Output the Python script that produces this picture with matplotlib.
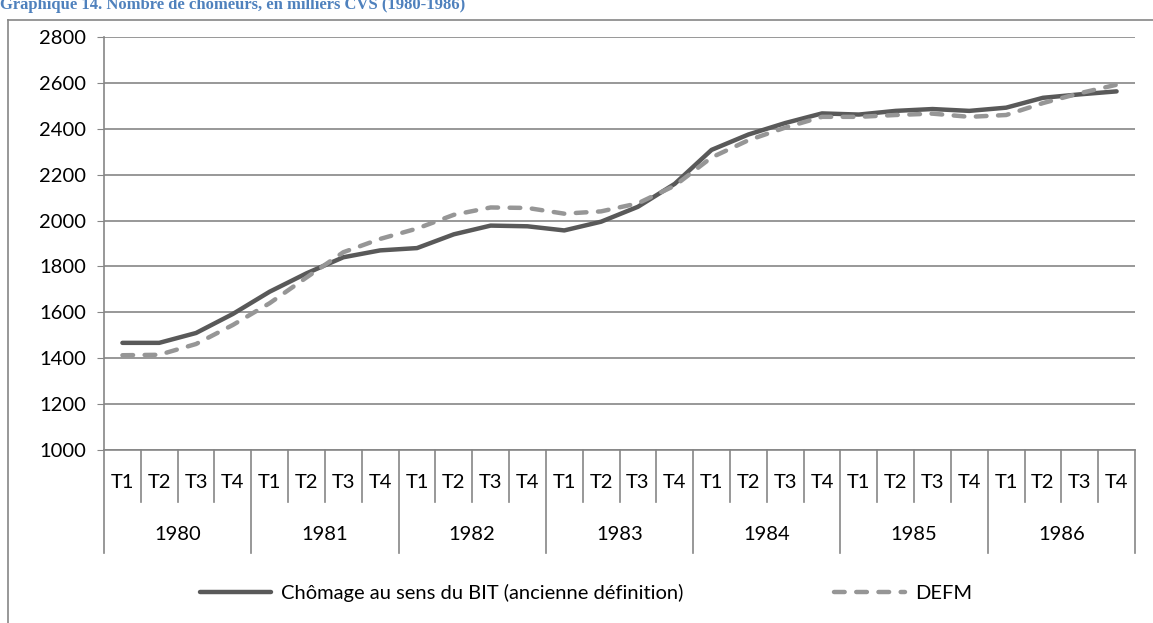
import numpy as np
import matplotlib.pyplot as plt
from matplotlib.lines import Line2D
import matplotlib.transforms as mtransforms

years = ['1980', '1981', '1982', '1983', '1984', '1985', '1986']
quarters = ['T1', 'T2', 'T3', 'T4']

# chômage au sens du BIT (ancienne définition), milliers CVS
bit = [1467, 1467, 1510, 1593,
       1690, 1770, 1840, 1870,
       1880, 1940, 1978, 1975,
       1957, 1995, 2060, 2160,
       2308, 2375, 2425, 2467,
       2462, 2478, 2486, 2478,
       2492, 2535, 2550, 2563]
# DEFM
defm = [1413, 1415, 1462, 1545,
        1640, 1752, 1862, 1920,
        1965, 2025, 2057, 2055,
        2030, 2040, 2075, 2152,
        2275, 2350, 2405, 2452,
        2452, 2460, 2466, 2452,
        2460, 2512, 2555, 2592]

plt.rcParams['font.family'] = ['Lato', 'DejaVu Sans']
fs = 14.5
grey = '#868686'

fig = plt.figure(figsize=(11.53, 6.23), dpi=100)
ax = fig.add_axes([104/1153, 1-450/623, (1135-104)/1153, (450-37)/623])

n = len(bit)
x = np.arange(n) + 0.5
ax.plot(x, bit, color='#595959', lw=3.2, solid_capstyle='round',
        label='Chômage au sens du BIT (ancienne définition)')
ax.plot(x, defm, color='#969696', lw=3.2, dashes=(2.4, 2.6), dash_capstyle='round',
        label='DEFM')

ax.set_xlim(0, n)
ax.set_ylim(1000, 2800)
ax.set_yticks(range(1000, 2801, 200))
ax.tick_params(axis='y', labelsize=fs, length=5, color=grey, pad=8)
ax.set_xticks([])
ax.yaxis.grid(True, color=grey, lw=1.2)
ax.set_axisbelow(True)
for s in ['top', 'right']:
    ax.spines[s].set_visible(False)
ax.spines['left'].set_color(grey)
ax.spines['bottom'].set_color(grey)
ax.spines['left'].set_linewidth(1.2)
ax.spines['bottom'].set_linewidth(1.2)

# two-level category axis
tr = mtransforms.blended_transform_factory(ax.transData, ax.transAxes)
q_low = -52 / 413
y_low = -103 / 413
for i in range(n + 1):
    bottom = y_low if i % 4 == 0 else q_low
    ax.add_line(Line2D([i, i], [0, bottom], transform=tr, color=grey,
                       lw=1.2, clip_on=False))
for i in range(n):
    ax.text(i + 0.5, -33 / 413, quarters[i % 4], transform=tr, ha='center',
            va='center', fontsize=fs)
for j, yr in enumerate(years):
    ax.text(4 * j + 2, -85 / 413, yr, transform=tr, ha='center',
            va='center', fontsize=fs)

# outer frame (cropped)
fig.add_artist(Line2D([8/1153, 8/1153], [0, 1-20/623], color=grey, lw=1.2))
fig.add_artist(Line2D([8/1153, 1], [1-20/623, 1-20/623], color=grey, lw=1.2))

fig.text(0.0, 1-9/623, 'Graphique 14. Nombre de chômeurs, en milliers CVS (1980-1986)',
         family='Liberation Serif', weight='bold', color='#4F81BD',
         fontsize=12, va='baseline', ha='left')

fig.legend(loc='center', bbox_to_anchor=(586/1153, 1-593/623), ncol=2,
           frameon=False, fontsize=fs, handlelength=3.5, handletextpad=0.5,
           columnspacing=7.5)

fig.savefig('out.png', dpi=100)
